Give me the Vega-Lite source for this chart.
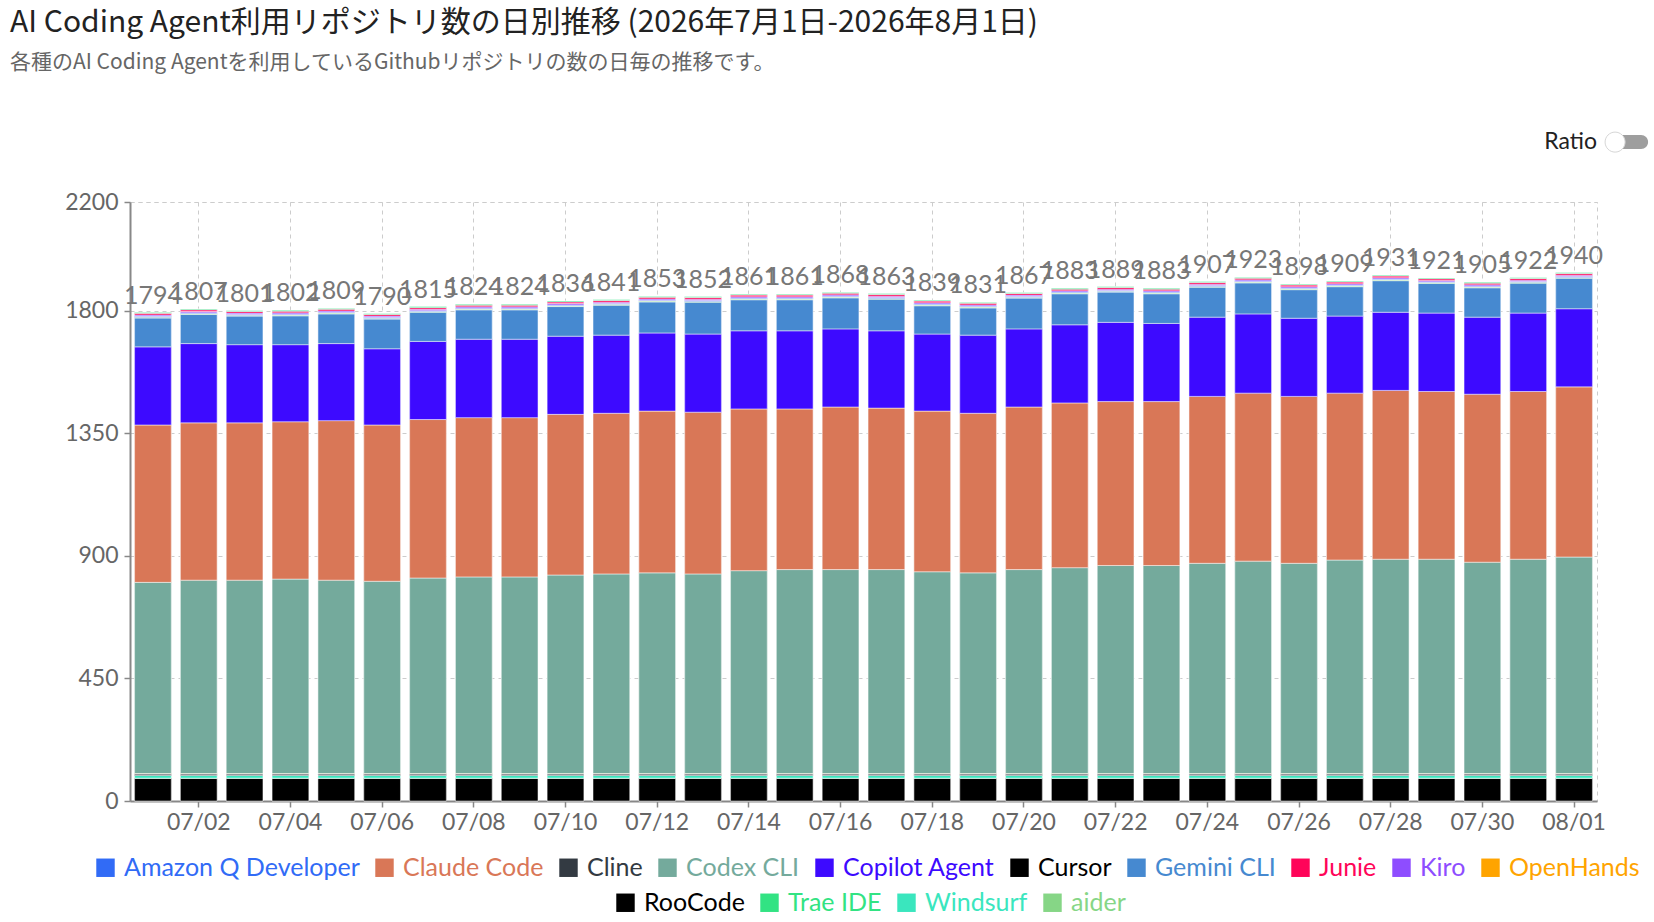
{
  "$schema": "https://vega.github.io/schema/vega-lite/v6.json",
  "width": 1467,
  "height": 599,
  "autosize": "none",
  "padding": {"left": 130, "top": 202, "right": 57, "bottom": 121},
  "background": "white",
  "title": {
    "text": "AI Coding Agent利用リポジトリ数の日別推移 (2026年7月1日-2026年8月1日)",
    "subtitle": "各種のAI Coding Agentを利用しているGithubリポジトリの数の日毎の推移です。",
    "anchor": "start",
    "frame": "group",
    "dx": -120,
    "offset": 57,
    "font": "Noto Sans CJK JP",
    "fontSize": 30,
    "fontWeight": "normal",
    "color": "#222222",
    "subtitleFont": "Noto Sans CJK JP",
    "subtitleFontSize": 21,
    "subtitleColor": "#666666",
    "subtitlePadding": 14
  },
  "config": {
    "view": {"stroke": "#cccccc", "strokeDash": [4, 4]},
    "axis": {
      "labelFont": "Lato",
      "labelFontSize": 23,
      "labelColor": "#666666",
      "domainColor": "#888888",
      "domainWidth": 2,
      "tickColor": "#888888",
      "tickWidth": 1.5,
      "tickSize": 6,
      "gridColor": "#cccccc",
      "gridDash": [4, 4]
    },
    "legend": {
      "orient": "none",
      "direction": "horizontal",
      "symbolType": "square",
      "symbolSize": 340,
      "symbolStrokeWidth": 0,
      "labelFont": "Lato",
      "labelFontSize": 25,
      "labelLimit": 400,
      "labelOffset": 6,
      "columnPadding": 12,
      "padding": 0
    }
  },
  "data": {
    "values": [
      {"date": "07/01", "agent": "Cursor", "count": 83}, {"date": "07/01", "agent": "RooCode", "count": 1}, {"date": "07/01", "agent": "Windsurf", "count": 10}, {"date": "07/01", "agent": "Cline", "count": 5}, {"date": "07/01", "agent": "OpenHands", "count": 2}, {"date": "07/01", "agent": "Codex CLI", "count": 702}, {"date": "07/01", "agent": "Claude Code", "count": 578}, {"date": "07/01", "agent": "Copilot Agent", "count": 287}, {"date": "07/01", "agent": "Gemini CLI", "count": 106}, {"date": "07/01", "agent": "aider", "count": 3}, {"date": "07/01", "agent": "Amazon Q Developer", "count": 3}, {"date": "07/01", "agent": "Kiro", "count": 5}, {"date": "07/01", "agent": "Junie", "count": 6}, {"date": "07/01", "agent": "Trae IDE", "count": 3},
      {"date": "07/02", "agent": "Cursor", "count": 83}, {"date": "07/02", "agent": "RooCode", "count": 1}, {"date": "07/02", "agent": "Windsurf", "count": 10}, {"date": "07/02", "agent": "Cline", "count": 5}, {"date": "07/02", "agent": "OpenHands", "count": 2}, {"date": "07/02", "agent": "Codex CLI", "count": 710}, {"date": "07/02", "agent": "Claude Code", "count": 578}, {"date": "07/02", "agent": "Copilot Agent", "count": 291}, {"date": "07/02", "agent": "Gemini CLI", "count": 107}, {"date": "07/02", "agent": "aider", "count": 3}, {"date": "07/02", "agent": "Amazon Q Developer", "count": 3}, {"date": "07/02", "agent": "Kiro", "count": 5}, {"date": "07/02", "agent": "Junie", "count": 6}, {"date": "07/02", "agent": "Trae IDE", "count": 3},
      {"date": "07/03", "agent": "Cursor", "count": 83}, {"date": "07/03", "agent": "RooCode", "count": 1}, {"date": "07/03", "agent": "Windsurf", "count": 10}, {"date": "07/03", "agent": "Cline", "count": 5}, {"date": "07/03", "agent": "OpenHands", "count": 2}, {"date": "07/03", "agent": "Codex CLI", "count": 710}, {"date": "07/03", "agent": "Claude Code", "count": 578}, {"date": "07/03", "agent": "Copilot Agent", "count": 287}, {"date": "07/03", "agent": "Gemini CLI", "count": 105}, {"date": "07/03", "agent": "aider", "count": 3}, {"date": "07/03", "agent": "Amazon Q Developer", "count": 3}, {"date": "07/03", "agent": "Kiro", "count": 5}, {"date": "07/03", "agent": "Junie", "count": 6}, {"date": "07/03", "agent": "Trae IDE", "count": 3},
      {"date": "07/04", "agent": "Cursor", "count": 83}, {"date": "07/04", "agent": "RooCode", "count": 1}, {"date": "07/04", "agent": "Windsurf", "count": 10}, {"date": "07/04", "agent": "Cline", "count": 5}, {"date": "07/04", "agent": "OpenHands", "count": 2}, {"date": "07/04", "agent": "Codex CLI", "count": 714}, {"date": "07/04", "agent": "Claude Code", "count": 578}, {"date": "07/04", "agent": "Copilot Agent", "count": 283}, {"date": "07/04", "agent": "Gemini CLI", "count": 106}, {"date": "07/04", "agent": "aider", "count": 3}, {"date": "07/04", "agent": "Amazon Q Developer", "count": 3}, {"date": "07/04", "agent": "Kiro", "count": 5}, {"date": "07/04", "agent": "Junie", "count": 6}, {"date": "07/04", "agent": "Trae IDE", "count": 3},
      {"date": "07/05", "agent": "Cursor", "count": 83}, {"date": "07/05", "agent": "RooCode", "count": 1}, {"date": "07/05", "agent": "Windsurf", "count": 10}, {"date": "07/05", "agent": "Cline", "count": 5}, {"date": "07/05", "agent": "OpenHands", "count": 2}, {"date": "07/05", "agent": "Codex CLI", "count": 710}, {"date": "07/05", "agent": "Claude Code", "count": 586}, {"date": "07/05", "agent": "Copilot Agent", "count": 283}, {"date": "07/05", "agent": "Gemini CLI", "count": 109}, {"date": "07/05", "agent": "aider", "count": 3}, {"date": "07/05", "agent": "Amazon Q Developer", "count": 3}, {"date": "07/05", "agent": "Kiro", "count": 5}, {"date": "07/05", "agent": "Junie", "count": 6}, {"date": "07/05", "agent": "Trae IDE", "count": 3},
      {"date": "07/06", "agent": "Cursor", "count": 83}, {"date": "07/06", "agent": "RooCode", "count": 1}, {"date": "07/06", "agent": "Windsurf", "count": 10}, {"date": "07/06", "agent": "Cline", "count": 5}, {"date": "07/06", "agent": "OpenHands", "count": 2}, {"date": "07/06", "agent": "Codex CLI", "count": 706}, {"date": "07/06", "agent": "Claude Code", "count": 574}, {"date": "07/06", "agent": "Copilot Agent", "count": 280}, {"date": "07/06", "agent": "Gemini CLI", "count": 109}, {"date": "07/06", "agent": "aider", "count": 3}, {"date": "07/06", "agent": "Amazon Q Developer", "count": 3}, {"date": "07/06", "agent": "Kiro", "count": 5}, {"date": "07/06", "agent": "Junie", "count": 6}, {"date": "07/06", "agent": "Trae IDE", "count": 3},
      {"date": "07/07", "agent": "Cursor", "count": 83}, {"date": "07/07", "agent": "RooCode", "count": 1}, {"date": "07/07", "agent": "Windsurf", "count": 10}, {"date": "07/07", "agent": "Cline", "count": 5}, {"date": "07/07", "agent": "OpenHands", "count": 2}, {"date": "07/07", "agent": "Codex CLI", "count": 718}, {"date": "07/07", "agent": "Claude Code", "count": 582}, {"date": "07/07", "agent": "Copilot Agent", "count": 287}, {"date": "07/07", "agent": "Gemini CLI", "count": 107}, {"date": "07/07", "agent": "aider", "count": 3}, {"date": "07/07", "agent": "Amazon Q Developer", "count": 3}, {"date": "07/07", "agent": "Kiro", "count": 5}, {"date": "07/07", "agent": "Junie", "count": 6}, {"date": "07/07", "agent": "Trae IDE", "count": 3},
      {"date": "07/08", "agent": "Cursor", "count": 83}, {"date": "07/08", "agent": "RooCode", "count": 1}, {"date": "07/08", "agent": "Windsurf", "count": 10}, {"date": "07/08", "agent": "Cline", "count": 5}, {"date": "07/08", "agent": "OpenHands", "count": 2}, {"date": "07/08", "agent": "Codex CLI", "count": 722}, {"date": "07/08", "agent": "Claude Code", "count": 585}, {"date": "07/08", "agent": "Copilot Agent", "count": 288}, {"date": "07/08", "agent": "Gemini CLI", "count": 108}, {"date": "07/08", "agent": "aider", "count": 3}, {"date": "07/08", "agent": "Amazon Q Developer", "count": 3}, {"date": "07/08", "agent": "Kiro", "count": 5}, {"date": "07/08", "agent": "Junie", "count": 6}, {"date": "07/08", "agent": "Trae IDE", "count": 3},
      {"date": "07/09", "agent": "Cursor", "count": 83}, {"date": "07/09", "agent": "RooCode", "count": 1}, {"date": "07/09", "agent": "Windsurf", "count": 10}, {"date": "07/09", "agent": "Cline", "count": 5}, {"date": "07/09", "agent": "OpenHands", "count": 2}, {"date": "07/09", "agent": "Codex CLI", "count": 722}, {"date": "07/09", "agent": "Claude Code", "count": 585}, {"date": "07/09", "agent": "Copilot Agent", "count": 288}, {"date": "07/09", "agent": "Gemini CLI", "count": 108}, {"date": "07/09", "agent": "aider", "count": 3}, {"date": "07/09", "agent": "Amazon Q Developer", "count": 3}, {"date": "07/09", "agent": "Kiro", "count": 5}, {"date": "07/09", "agent": "Junie", "count": 6}, {"date": "07/09", "agent": "Trae IDE", "count": 3},
      {"date": "07/10", "agent": "Cursor", "count": 83}, {"date": "07/10", "agent": "RooCode", "count": 1}, {"date": "07/10", "agent": "Windsurf", "count": 10}, {"date": "07/10", "agent": "Cline", "count": 5}, {"date": "07/10", "agent": "OpenHands", "count": 2}, {"date": "07/10", "agent": "Codex CLI", "count": 729}, {"date": "07/10", "agent": "Claude Code", "count": 590}, {"date": "07/10", "agent": "Copilot Agent", "count": 287}, {"date": "07/10", "agent": "Gemini CLI", "count": 109}, {"date": "07/10", "agent": "aider", "count": 3}, {"date": "07/10", "agent": "Amazon Q Developer", "count": 3}, {"date": "07/10", "agent": "Kiro", "count": 5}, {"date": "07/10", "agent": "Junie", "count": 6}, {"date": "07/10", "agent": "Trae IDE", "count": 3},
      {"date": "07/11", "agent": "Cursor", "count": 83}, {"date": "07/11", "agent": "RooCode", "count": 1}, {"date": "07/11", "agent": "Windsurf", "count": 10}, {"date": "07/11", "agent": "Cline", "count": 5}, {"date": "07/11", "agent": "OpenHands", "count": 2}, {"date": "07/11", "agent": "Codex CLI", "count": 733}, {"date": "07/11", "agent": "Claude Code", "count": 590}, {"date": "07/11", "agent": "Copilot Agent", "count": 287}, {"date": "07/11", "agent": "Gemini CLI", "count": 110}, {"date": "07/11", "agent": "aider", "count": 3}, {"date": "07/11", "agent": "Amazon Q Developer", "count": 3}, {"date": "07/11", "agent": "Kiro", "count": 5}, {"date": "07/11", "agent": "Junie", "count": 6}, {"date": "07/11", "agent": "Trae IDE", "count": 3},
      {"date": "07/12", "agent": "Cursor", "count": 83}, {"date": "07/12", "agent": "RooCode", "count": 1}, {"date": "07/12", "agent": "Windsurf", "count": 10}, {"date": "07/12", "agent": "Cline", "count": 5}, {"date": "07/12", "agent": "OpenHands", "count": 2}, {"date": "07/12", "agent": "Codex CLI", "count": 737}, {"date": "07/12", "agent": "Claude Code", "count": 594}, {"date": "07/12", "agent": "Copilot Agent", "count": 287}, {"date": "07/12", "agent": "Gemini CLI", "count": 114}, {"date": "07/12", "agent": "aider", "count": 3}, {"date": "07/12", "agent": "Amazon Q Developer", "count": 3}, {"date": "07/12", "agent": "Kiro", "count": 5}, {"date": "07/12", "agent": "Junie", "count": 6}, {"date": "07/12", "agent": "Trae IDE", "count": 3},
      {"date": "07/13", "agent": "Cursor", "count": 83}, {"date": "07/13", "agent": "RooCode", "count": 1}, {"date": "07/13", "agent": "Windsurf", "count": 10}, {"date": "07/13", "agent": "Cline", "count": 5}, {"date": "07/13", "agent": "OpenHands", "count": 2}, {"date": "07/13", "agent": "Codex CLI", "count": 733}, {"date": "07/13", "agent": "Claude Code", "count": 594}, {"date": "07/13", "agent": "Copilot Agent", "count": 287}, {"date": "07/13", "agent": "Gemini CLI", "count": 117}, {"date": "07/13", "agent": "aider", "count": 3}, {"date": "07/13", "agent": "Amazon Q Developer", "count": 3}, {"date": "07/13", "agent": "Kiro", "count": 5}, {"date": "07/13", "agent": "Junie", "count": 6}, {"date": "07/13", "agent": "Trae IDE", "count": 3},
      {"date": "07/14", "agent": "Cursor", "count": 83}, {"date": "07/14", "agent": "RooCode", "count": 1}, {"date": "07/14", "agent": "Windsurf", "count": 10}, {"date": "07/14", "agent": "Cline", "count": 5}, {"date": "07/14", "agent": "OpenHands", "count": 2}, {"date": "07/14", "agent": "Codex CLI", "count": 745}, {"date": "07/14", "agent": "Claude Code", "count": 594}, {"date": "07/14", "agent": "Copilot Agent", "count": 287}, {"date": "07/14", "agent": "Gemini CLI", "count": 114}, {"date": "07/14", "agent": "aider", "count": 3}, {"date": "07/14", "agent": "Amazon Q Developer", "count": 3}, {"date": "07/14", "agent": "Kiro", "count": 5}, {"date": "07/14", "agent": "Junie", "count": 6}, {"date": "07/14", "agent": "Trae IDE", "count": 3},
      {"date": "07/15", "agent": "Cursor", "count": 83}, {"date": "07/15", "agent": "RooCode", "count": 1}, {"date": "07/15", "agent": "Windsurf", "count": 10}, {"date": "07/15", "agent": "Cline", "count": 5}, {"date": "07/15", "agent": "OpenHands", "count": 2}, {"date": "07/15", "agent": "Codex CLI", "count": 749}, {"date": "07/15", "agent": "Claude Code", "count": 590}, {"date": "07/15", "agent": "Copilot Agent", "count": 287}, {"date": "07/15", "agent": "Gemini CLI", "count": 114}, {"date": "07/15", "agent": "aider", "count": 3}, {"date": "07/15", "agent": "Amazon Q Developer", "count": 3}, {"date": "07/15", "agent": "Kiro", "count": 5}, {"date": "07/15", "agent": "Junie", "count": 6}, {"date": "07/15", "agent": "Trae IDE", "count": 3},
      {"date": "07/16", "agent": "Cursor", "count": 83}, {"date": "07/16", "agent": "RooCode", "count": 1}, {"date": "07/16", "agent": "Windsurf", "count": 10}, {"date": "07/16", "agent": "Cline", "count": 5}, {"date": "07/16", "agent": "OpenHands", "count": 2}, {"date": "07/16", "agent": "Codex CLI", "count": 749}, {"date": "07/16", "agent": "Claude Code", "count": 597}, {"date": "07/16", "agent": "Copilot Agent", "count": 287}, {"date": "07/16", "agent": "Gemini CLI", "count": 114}, {"date": "07/16", "agent": "aider", "count": 3}, {"date": "07/16", "agent": "Amazon Q Developer", "count": 3}, {"date": "07/16", "agent": "Kiro", "count": 5}, {"date": "07/16", "agent": "Junie", "count": 6}, {"date": "07/16", "agent": "Trae IDE", "count": 3},
      {"date": "07/17", "agent": "Cursor", "count": 83}, {"date": "07/17", "agent": "RooCode", "count": 1}, {"date": "07/17", "agent": "Windsurf", "count": 10}, {"date": "07/17", "agent": "Cline", "count": 5}, {"date": "07/17", "agent": "OpenHands", "count": 2}, {"date": "07/17", "agent": "Codex CLI", "count": 749}, {"date": "07/17", "agent": "Claude Code", "count": 593}, {"date": "07/17", "agent": "Copilot Agent", "count": 284}, {"date": "07/17", "agent": "Gemini CLI", "count": 116}, {"date": "07/17", "agent": "aider", "count": 3}, {"date": "07/17", "agent": "Amazon Q Developer", "count": 3}, {"date": "07/17", "agent": "Kiro", "count": 5}, {"date": "07/17", "agent": "Junie", "count": 6}, {"date": "07/17", "agent": "Trae IDE", "count": 3},
      {"date": "07/18", "agent": "Cursor", "count": 83}, {"date": "07/18", "agent": "RooCode", "count": 1}, {"date": "07/18", "agent": "Windsurf", "count": 10}, {"date": "07/18", "agent": "Cline", "count": 5}, {"date": "07/18", "agent": "OpenHands", "count": 2}, {"date": "07/18", "agent": "Codex CLI", "count": 741}, {"date": "07/18", "agent": "Claude Code", "count": 590}, {"date": "07/18", "agent": "Copilot Agent", "count": 283}, {"date": "07/18", "agent": "Gemini CLI", "count": 104}, {"date": "07/18", "agent": "aider", "count": 3}, {"date": "07/18", "agent": "Amazon Q Developer", "count": 3}, {"date": "07/18", "agent": "Kiro", "count": 5}, {"date": "07/18", "agent": "Junie", "count": 6}, {"date": "07/18", "agent": "Trae IDE", "count": 3},
      {"date": "07/19", "agent": "Cursor", "count": 83}, {"date": "07/19", "agent": "RooCode", "count": 1}, {"date": "07/19", "agent": "Windsurf", "count": 10}, {"date": "07/19", "agent": "Cline", "count": 5}, {"date": "07/19", "agent": "OpenHands", "count": 2}, {"date": "07/19", "agent": "Codex CLI", "count": 737}, {"date": "07/19", "agent": "Claude Code", "count": 586}, {"date": "07/19", "agent": "Copilot Agent", "count": 287}, {"date": "07/19", "agent": "Gemini CLI", "count": 100}, {"date": "07/19", "agent": "aider", "count": 3}, {"date": "07/19", "agent": "Amazon Q Developer", "count": 3}, {"date": "07/19", "agent": "Kiro", "count": 5}, {"date": "07/19", "agent": "Junie", "count": 6}, {"date": "07/19", "agent": "Trae IDE", "count": 3},
      {"date": "07/20", "agent": "Cursor", "count": 83}, {"date": "07/20", "agent": "RooCode", "count": 1}, {"date": "07/20", "agent": "Windsurf", "count": 10}, {"date": "07/20", "agent": "Cline", "count": 5}, {"date": "07/20", "agent": "OpenHands", "count": 2}, {"date": "07/20", "agent": "Codex CLI", "count": 749}, {"date": "07/20", "agent": "Claude Code", "count": 597}, {"date": "07/20", "agent": "Copilot Agent", "count": 287}, {"date": "07/20", "agent": "Gemini CLI", "count": 113}, {"date": "07/20", "agent": "aider", "count": 3}, {"date": "07/20", "agent": "Amazon Q Developer", "count": 3}, {"date": "07/20", "agent": "Kiro", "count": 5}, {"date": "07/20", "agent": "Junie", "count": 6}, {"date": "07/20", "agent": "Trae IDE", "count": 3},
      {"date": "07/21", "agent": "Cursor", "count": 83}, {"date": "07/21", "agent": "RooCode", "count": 1}, {"date": "07/21", "agent": "Windsurf", "count": 10}, {"date": "07/21", "agent": "Cline", "count": 5}, {"date": "07/21", "agent": "OpenHands", "count": 2}, {"date": "07/21", "agent": "Codex CLI", "count": 756}, {"date": "07/21", "agent": "Claude Code", "count": 605}, {"date": "07/21", "agent": "Copilot Agent", "count": 287}, {"date": "07/21", "agent": "Gemini CLI", "count": 114}, {"date": "07/21", "agent": "aider", "count": 3}, {"date": "07/21", "agent": "Amazon Q Developer", "count": 3}, {"date": "07/21", "agent": "Kiro", "count": 5}, {"date": "07/21", "agent": "Junie", "count": 6}, {"date": "07/21", "agent": "Trae IDE", "count": 3},
      {"date": "07/22", "agent": "Cursor", "count": 83}, {"date": "07/22", "agent": "RooCode", "count": 1}, {"date": "07/22", "agent": "Windsurf", "count": 10}, {"date": "07/22", "agent": "Cline", "count": 5}, {"date": "07/22", "agent": "OpenHands", "count": 2}, {"date": "07/22", "agent": "Codex CLI", "count": 764}, {"date": "07/22", "agent": "Claude Code", "count": 602}, {"date": "07/22", "agent": "Copilot Agent", "count": 291}, {"date": "07/22", "agent": "Gemini CLI", "count": 111}, {"date": "07/22", "agent": "aider", "count": 3}, {"date": "07/22", "agent": "Amazon Q Developer", "count": 3}, {"date": "07/22", "agent": "Kiro", "count": 5}, {"date": "07/22", "agent": "Junie", "count": 6}, {"date": "07/22", "agent": "Trae IDE", "count": 3},
      {"date": "07/23", "agent": "Cursor", "count": 83}, {"date": "07/23", "agent": "RooCode", "count": 1}, {"date": "07/23", "agent": "Windsurf", "count": 10}, {"date": "07/23", "agent": "Cline", "count": 5}, {"date": "07/23", "agent": "OpenHands", "count": 2}, {"date": "07/23", "agent": "Codex CLI", "count": 764}, {"date": "07/23", "agent": "Claude Code", "count": 602}, {"date": "07/23", "agent": "Copilot Agent", "count": 287}, {"date": "07/23", "agent": "Gemini CLI", "count": 109}, {"date": "07/23", "agent": "aider", "count": 3}, {"date": "07/23", "agent": "Amazon Q Developer", "count": 3}, {"date": "07/23", "agent": "Kiro", "count": 5}, {"date": "07/23", "agent": "Junie", "count": 6}, {"date": "07/23", "agent": "Trae IDE", "count": 3},
      {"date": "07/24", "agent": "Cursor", "count": 83}, {"date": "07/24", "agent": "RooCode", "count": 1}, {"date": "07/24", "agent": "Windsurf", "count": 10}, {"date": "07/24", "agent": "Cline", "count": 5}, {"date": "07/24", "agent": "OpenHands", "count": 2}, {"date": "07/24", "agent": "Codex CLI", "count": 772}, {"date": "07/24", "agent": "Claude Code", "count": 613}, {"date": "07/24", "agent": "Copilot Agent", "count": 291}, {"date": "07/24", "agent": "Gemini CLI", "count": 110}, {"date": "07/24", "agent": "aider", "count": 3}, {"date": "07/24", "agent": "Amazon Q Developer", "count": 3}, {"date": "07/24", "agent": "Kiro", "count": 5}, {"date": "07/24", "agent": "Junie", "count": 6}, {"date": "07/24", "agent": "Trae IDE", "count": 3},
      {"date": "07/25", "agent": "Cursor", "count": 83}, {"date": "07/25", "agent": "RooCode", "count": 1}, {"date": "07/25", "agent": "Windsurf", "count": 10}, {"date": "07/25", "agent": "Cline", "count": 5}, {"date": "07/25", "agent": "OpenHands", "count": 2}, {"date": "07/25", "agent": "Codex CLI", "count": 780}, {"date": "07/25", "agent": "Claude Code", "count": 617}, {"date": "07/25", "agent": "Copilot Agent", "count": 291}, {"date": "07/25", "agent": "Gemini CLI", "count": 114}, {"date": "07/25", "agent": "aider", "count": 3}, {"date": "07/25", "agent": "Amazon Q Developer", "count": 3}, {"date": "07/25", "agent": "Kiro", "count": 5}, {"date": "07/25", "agent": "Junie", "count": 6}, {"date": "07/25", "agent": "Trae IDE", "count": 3},
      {"date": "07/26", "agent": "Cursor", "count": 83}, {"date": "07/26", "agent": "RooCode", "count": 1}, {"date": "07/26", "agent": "Windsurf", "count": 10}, {"date": "07/26", "agent": "Cline", "count": 5}, {"date": "07/26", "agent": "OpenHands", "count": 2}, {"date": "07/26", "agent": "Codex CLI", "count": 772}, {"date": "07/26", "agent": "Claude Code", "count": 613}, {"date": "07/26", "agent": "Copilot Agent", "count": 287}, {"date": "07/26", "agent": "Gemini CLI", "count": 105}, {"date": "07/26", "agent": "aider", "count": 3}, {"date": "07/26", "agent": "Amazon Q Developer", "count": 3}, {"date": "07/26", "agent": "Kiro", "count": 5}, {"date": "07/26", "agent": "Junie", "count": 6}, {"date": "07/26", "agent": "Trae IDE", "count": 3},
      {"date": "07/27", "agent": "Cursor", "count": 83}, {"date": "07/27", "agent": "RooCode", "count": 1}, {"date": "07/27", "agent": "Windsurf", "count": 10}, {"date": "07/27", "agent": "Cline", "count": 5}, {"date": "07/27", "agent": "OpenHands", "count": 2}, {"date": "07/27", "agent": "Codex CLI", "count": 784}, {"date": "07/27", "agent": "Claude Code", "count": 613}, {"date": "07/27", "agent": "Copilot Agent", "count": 283}, {"date": "07/27", "agent": "Gemini CLI", "count": 108}, {"date": "07/27", "agent": "aider", "count": 3}, {"date": "07/27", "agent": "Amazon Q Developer", "count": 3}, {"date": "07/27", "agent": "Kiro", "count": 5}, {"date": "07/27", "agent": "Junie", "count": 6}, {"date": "07/27", "agent": "Trae IDE", "count": 3},
      {"date": "07/28", "agent": "Cursor", "count": 83}, {"date": "07/28", "agent": "RooCode", "count": 1}, {"date": "07/28", "agent": "Windsurf", "count": 10}, {"date": "07/28", "agent": "Cline", "count": 5}, {"date": "07/28", "agent": "OpenHands", "count": 2}, {"date": "07/28", "agent": "Codex CLI", "count": 787}, {"date": "07/28", "agent": "Claude Code", "count": 620}, {"date": "07/28", "agent": "Copilot Agent", "count": 287}, {"date": "07/28", "agent": "Gemini CLI", "count": 116}, {"date": "07/28", "agent": "aider", "count": 3}, {"date": "07/28", "agent": "Amazon Q Developer", "count": 3}, {"date": "07/28", "agent": "Kiro", "count": 5}, {"date": "07/28", "agent": "Junie", "count": 6}, {"date": "07/28", "agent": "Trae IDE", "count": 3},
      {"date": "07/29", "agent": "Cursor", "count": 83}, {"date": "07/29", "agent": "RooCode", "count": 1}, {"date": "07/29", "agent": "Windsurf", "count": 10}, {"date": "07/29", "agent": "Cline", "count": 5}, {"date": "07/29", "agent": "OpenHands", "count": 2}, {"date": "07/29", "agent": "Codex CLI", "count": 787}, {"date": "07/29", "agent": "Claude Code", "count": 616}, {"date": "07/29", "agent": "Copilot Agent", "count": 288}, {"date": "07/29", "agent": "Gemini CLI", "count": 109}, {"date": "07/29", "agent": "aider", "count": 3}, {"date": "07/29", "agent": "Amazon Q Developer", "count": 3}, {"date": "07/29", "agent": "Kiro", "count": 5}, {"date": "07/29", "agent": "Junie", "count": 6}, {"date": "07/29", "agent": "Trae IDE", "count": 3},
      {"date": "07/30", "agent": "Cursor", "count": 83}, {"date": "07/30", "agent": "RooCode", "count": 1}, {"date": "07/30", "agent": "Windsurf", "count": 10}, {"date": "07/30", "agent": "Cline", "count": 5}, {"date": "07/30", "agent": "OpenHands", "count": 2}, {"date": "07/30", "agent": "Codex CLI", "count": 776}, {"date": "07/30", "agent": "Claude Code", "count": 617}, {"date": "07/30", "agent": "Copilot Agent", "count": 283}, {"date": "07/30", "agent": "Gemini CLI", "count": 108}, {"date": "07/30", "agent": "aider", "count": 3}, {"date": "07/30", "agent": "Amazon Q Developer", "count": 3}, {"date": "07/30", "agent": "Kiro", "count": 5}, {"date": "07/30", "agent": "Junie", "count": 6}, {"date": "07/30", "agent": "Trae IDE", "count": 3},
      {"date": "07/31", "agent": "Cursor", "count": 83}, {"date": "07/31", "agent": "RooCode", "count": 1}, {"date": "07/31", "agent": "Windsurf", "count": 10}, {"date": "07/31", "agent": "Cline", "count": 5}, {"date": "07/31", "agent": "OpenHands", "count": 2}, {"date": "07/31", "agent": "Codex CLI", "count": 787}, {"date": "07/31", "agent": "Claude Code", "count": 616}, {"date": "07/31", "agent": "Copilot Agent", "count": 288}, {"date": "07/31", "agent": "Gemini CLI", "count": 110}, {"date": "07/31", "agent": "aider", "count": 3}, {"date": "07/31", "agent": "Amazon Q Developer", "count": 3}, {"date": "07/31", "agent": "Kiro", "count": 5}, {"date": "07/31", "agent": "Junie", "count": 6}, {"date": "07/31", "agent": "Trae IDE", "count": 3},
      {"date": "08/01", "agent": "Cursor", "count": 83}, {"date": "08/01", "agent": "RooCode", "count": 1}, {"date": "08/01", "agent": "Windsurf", "count": 10}, {"date": "08/01", "agent": "Cline", "count": 5}, {"date": "08/01", "agent": "OpenHands", "count": 2}, {"date": "08/01", "agent": "Codex CLI", "count": 795}, {"date": "08/01", "agent": "Claude Code", "count": 625}, {"date": "08/01", "agent": "Copilot Agent", "count": 287}, {"date": "08/01", "agent": "Gemini CLI", "count": 112}, {"date": "08/01", "agent": "aider", "count": 3}, {"date": "08/01", "agent": "Amazon Q Developer", "count": 3}, {"date": "08/01", "agent": "Kiro", "count": 5}, {"date": "08/01", "agent": "Junie", "count": 6}, {"date": "08/01", "agent": "Trae IDE", "count": 3}
    ]
  },
  "transform": [
    {
      "calculate": "indexof(['Cursor', 'RooCode', 'Windsurf', 'Cline', 'OpenHands', 'Codex CLI', 'Claude Code', 'Copilot Agent', 'Gemini CLI', 'aider', 'Amazon Q Developer', 'Kiro', 'Junie', 'Trae IDE'], datum.agent)",
      "as": "stack_rank"
    },
    {"calculate": "datum.agent", "as": "agent_row2"}
  ],
  "encoding": {
    "x": {
      "field": "date",
      "type": "ordinal",
      "title": null,
      "scale": {"paddingInner": 0.2, "paddingOuter": 0.1},
      "axis": {
        "values": ["07/02", "07/04", "07/06", "07/08", "07/10", "07/12", "07/14", "07/16", "07/18", "07/20", "07/22", "07/24", "07/26", "07/28", "07/30", "08/01"],
        "labelAngle": 0,
        "bandPosition": 0.5,
        "grid": true,
        "labelPadding": 4
      }
    }
  },
  "layer": [
    {
      "mark": {"type": "bar", "stroke": "#ffffff", "strokeWidth": 0.5},
      "encoding": {
        "y": {
          "field": "count",
          "type": "quantitative",
          "title": null,
          "scale": {"domain": [0, 2200], "nice": false},
          "axis": {"values": [0, 450, 900, 1350, 1800, 2200], "format": "d", "grid": true, "labelPadding": 6}
        },
        "order": {"field": "stack_rank", "type": "quantitative"},
        "color": {
          "field": "agent",
          "type": "nominal",
          "scale": {
            "domain": ["Amazon Q Developer", "Claude Code", "Cline", "Codex CLI", "Copilot Agent", "Cursor", "Gemini CLI", "Junie", "Kiro", "OpenHands", "RooCode", "Trae IDE", "Windsurf", "aider"],
            "range": ["#316BF6", "#D97757", "#333A42", "#74AA9C", "#3D0AFF", "#000000", "#4689D0", "#FF0459", "#8E4DFF", "#FFA400", "#000000", "#32E383", "#3AE6BE", "#86D686"]
          },
          "legend": {
            "title": null,
            "values": ["Amazon Q Developer", "Claude Code", "Cline", "Codex CLI", "Copilot Agent", "Cursor", "Gemini CLI", "Junie", "Kiro", "OpenHands"],
            "legendX": -37,
            "legendY": 653,
            "labelColor": {"expr": "scale('color', datum.value)"}
          }
        }
      }
    },
    {
      "mark": {"type": "bar", "stroke": "#ffffff", "strokeWidth": 0.5},
      "encoding": {
        "y": {"field": "count", "type": "quantitative"},
        "order": {"field": "stack_rank", "type": "quantitative"},
        "fill": {
          "field": "agent_row2",
          "type": "nominal",
          "scale": {
            "domain": ["RooCode", "Trae IDE", "Windsurf", "aider", "Amazon Q Developer", "Claude Code", "Cline", "Codex CLI", "Copilot Agent", "Cursor", "Gemini CLI", "Junie", "Kiro", "OpenHands"],
            "range": ["#000000", "#32E383", "#3AE6BE", "#86D686", "#316BF6", "#D97757", "#333A42", "#74AA9C", "#3D0AFF", "#000000", "#4689D0", "#FF0459", "#8E4DFF", "#FFA400"]
          },
          "legend": {
            "title": null,
            "values": ["RooCode", "Trae IDE", "Windsurf", "aider"],
            "legendX": 483,
            "legendY": 688,
            "labelColor": {"expr": "scale('fill', datum.value)"}
          }
        }
      }
    },
    {
      "transform": [
        {"aggregate": [{"op": "sum", "field": "count", "as": "total"}], "groupby": ["date"]}
      ],
      "mark": {"type": "text", "baseline": "bottom", "dy": -4, "font": "Lato", "fontSize": 25, "color": "#777777"},
      "encoding": {
        "y": {"field": "total", "type": "quantitative"},
        "text": {"field": "total", "type": "quantitative"}
      }
    },
    {
      "data": {"values": [{"control": "Ratio"}]},
      "mark": {"type": "text", "align": "right", "baseline": "middle", "dx": 23, "font": "Lato", "fontSize": 23, "color": "#222222"},
      "encoding": {
        "x": {"datum": "08/01"},
        "y": {"datum": 2420},
        "text": {"field": "control"}
      }
    },
    {
      "data": {"values": [{"control": "Ratio"}]},
      "mark": {
        "type": "point",
        "filled": true,
        "size": 400,
        "opacity": 1,
        "color": "#9E9E9E",
        "shape": "M3.9,-0.7 L6.7,-0.7 A0.7,0.7 0 0 1 6.7,0.7 L3.9,0.7 A0.7,0.7 0 0 1 3.9,-0.7 Z"
      },
      "encoding": {
        "x": {"datum": "08/01"},
        "y": {"datum": 2420}
      }
    },
    {
      "data": {"values": [{"control": "Ratio"}]},
      "mark": {
        "type": "point",
        "filled": true,
        "size": 400,
        "opacity": 1,
        "fill": "#ffffff",
        "stroke": "#d6d6d6",
        "strokeWidth": 1,
        "shape": "M3.1,0 A1,1 0 1 0 5.1,0 A1,1 0 1 0 3.1,0 Z"
      },
      "encoding": {
        "x": {"datum": "08/01"},
        "y": {"datum": 2420}
      }
    }
  ]
}
